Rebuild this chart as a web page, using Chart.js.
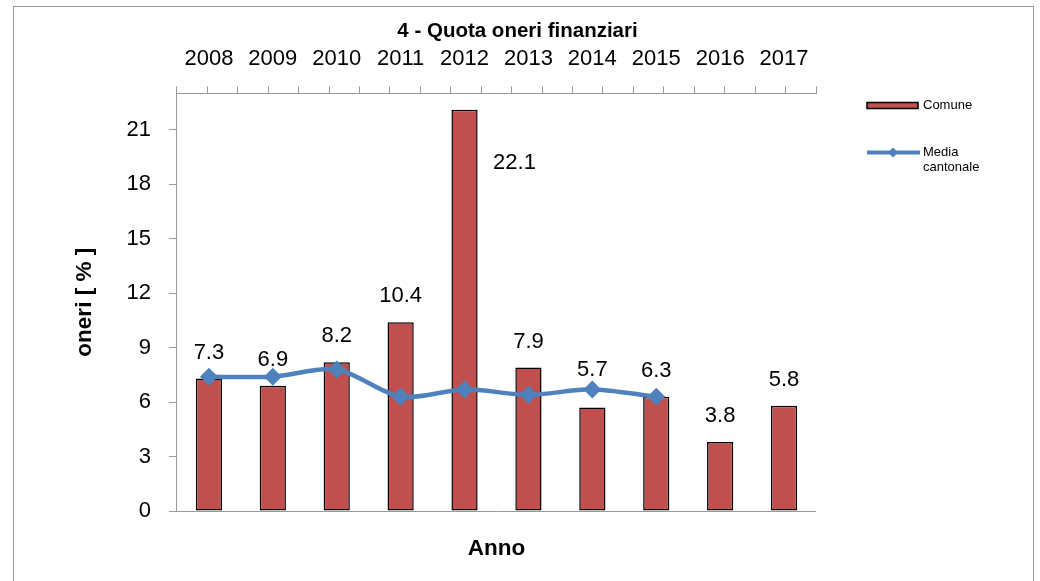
<!DOCTYPE html>
<html>
<head>
<meta charset="utf-8">
<script src="https://cdn.jsdelivr.net/npm/chart.js@4/dist/chart.umd.min.js"></script>
<style>
  html, body { margin: 0; background: #fff; }
  canvas { display: block; }
</style>
</head>
<body>
<canvas id="chartOneri" width="1040" height="581"></canvas>
<script>
const anni = ['2008', '2009', '2010', '2011', '2012', '2013', '2014', '2015', '2016', '2017'];
const comune = [7.3, 6.9, 8.2, 10.4, 22.1, 7.9, 5.7, 6.3, 3.8, 5.8];
const mediaCantonale = [7.4, 7.4, 7.8, 6.3, 6.7, 6.4, 6.7, 6.3, null, null];
const yTickValues = [0, 3, 6, 9, 12, 15, 18, 21];
const yMax = 23;

const FONT = '"Liberation Sans", Arial, sans-serif';
Chart.defaults.font.family = FONT;
Chart.defaults.color = '#000';

const grigio = '#999';

// cornice esterna
const cornice = {
    id: 'cornice',
    beforeDraw(chart) {
        const ctx = chart.ctx;
        ctx.save();
        ctx.strokeStyle = grigio;
        ctx.lineWidth = 1;
        ctx.strokeRect(13.5, 6.5, 1020, 620);
        ctx.restore();
    }
};

// valori sopra le barre
const etichette = {
    id: 'etichette',
    afterDatasetsDraw(chart, args, opts) {
        const ctx = chart.ctx;
        const meta = chart.getDatasetMeta(0);
        ctx.save();
        ctx.font = '22px ' + FONT;
        ctx.fillStyle = '#000';
        ctx.textAlign = 'center';
        ctx.textBaseline = 'middle';
        meta.data.forEach((bar, i) => {
            const s = opts.shift[i] || [0, 0];
            ctx.fillText(comune[i].toFixed(1), bar.x + s[0], bar.y - opts.offset + s[1]);
        });
        ctx.restore();
    }
};

// legenda a destra, stile Excel
const legenda = {
    id: 'legenda',
    afterDraw(chart) {
        const ctx = chart.ctx;
        const area = chart.chartArea;
        const barre = chart.data.datasets[0];
        const linea = chart.data.datasets[1];
        const lx = area.right + 51;
        const ly = area.top + 12;
        ctx.save();
        ctx.fillStyle = barre.backgroundColor;
        ctx.fillRect(lx, ly - 3, 51, 6);
        ctx.strokeStyle = '#000';
        ctx.lineWidth = 1.5;
        ctx.strokeRect(lx, ly - 3, 51, 6);

        ctx.font = '13px ' + FONT;
        ctx.fillStyle = '#000';
        ctx.textBaseline = 'middle';
        ctx.fillText(barre.label, lx + 56, ly);

        const y2 = ly + 47;
        ctx.strokeStyle = linea.borderColor;
        ctx.lineWidth = 4;
        ctx.beginPath();
        ctx.moveTo(lx, y2);
        ctx.lineTo(lx + 53, y2);
        ctx.stroke();
        ctx.fillStyle = linea.borderColor;
        ctx.beginPath();
        ctx.moveTo(lx + 26, y2 - 5);
        ctx.lineTo(lx + 31, y2);
        ctx.lineTo(lx + 26, y2 + 5);
        ctx.lineTo(lx + 21, y2);
        ctx.closePath();
        ctx.fill();

        ctx.fillStyle = '#000';
        ctx.fillText('Media', lx + 56, y2);
        ctx.fillText('cantonale', lx + 56, y2 + 15);
        ctx.restore();
    }
};

new Chart(document.getElementById('chartOneri'), {
    type: 'bar',
    data: {
        labels: anni,
        datasets: [{
            type: 'bar',
            label: 'Comune',
            data: comune,
            backgroundColor: '#C0504D',
            borderColor: '#000',
            borderWidth: 1.5,
            borderSkipped: false,
            barPercentage: 0.41,
            categoryPercentage: 1,
            order: 2
        }, {
            type: 'line',
            label: 'Media cantonale',
            data: mediaCantonale,
            borderColor: '#4F81BD',
            backgroundColor: '#4F81BD',
            borderWidth: 4.5,
            tension: 0.3,
            pointStyle: 'rectRot',
            pointRadius: 9,
            pointBorderWidth: 0,
            pointBackgroundColor: '#4F81BD',
            order: 1
        }]
    },
    options: {
        responsive: false,
        animation: false,
        devicePixelRatio: 1,
        layout: { padding: { left: 0, right: 5, top: 0, bottom: 0 } },
        scales: {
            x: {
                type: 'category',
                position: 'top',
                offset: true,
                weight: 1,
                grid: { display: false, tickLength: 14.5 },
                border: { display: false },
                ticks: { font: { size: 22 }, padding: 0, maxRotation: 0, autoSkip: false }
            },
            x2: {
                type: 'linear',
                position: 'top',
                min: -0.5,
                max: anni.length - 0.5,
                weight: 0,
                ticks: { display: false, stepSize: 0.5 },
                grid: { drawOnChartArea: false, tickLength: 7, color: grigio },
                border: { color: grigio }
            },
            y: {
                min: 0,
                max: yMax,
                ticks: { font: { size: 22 }, padding: 18, stepSize: 3 },
                afterBuildTicks: scale => { scale.ticks = yTickValues.map(v => ({ value: v })); },
                grid: {
                    color: c => (c.tick && c.tick.value === 0 ? grigio : 'transparent'),
                    tickColor: grigio,
                    tickLength: 8
                },
                border: { color: grigio },
                title: {
                    display: true,
                    text: 'oneri [ % ]',
                    font: { size: 22.5, weight: 'bold' },
                    padding: { top: 71.5, bottom: 10 }
                }
            },
            // spazio vuoto a destra per la legenda
            yLegenda: {
                type: 'linear',
                position: 'right',
                ticks: { display: false },
                grid: { display: false },
                border: { display: false },
                afterFit: scale => { scale.width = 219; }
            }
        },
        plugins: {
            legend: { display: false },
            tooltip: { enabled: false },
            title: {
                display: true,
                text: '4 - Quota oneri finanziari',
                font: { size: 20.5, weight: 'bold' },
                padding: { top: 19, bottom: 2 }
            },
            subtitle: {
                display: true,
                position: 'bottom',
                fullSize: false,
                text: 'Anno',
                font: { size: 22.5, weight: 'bold' },
                padding: { top: 24, bottom: 19 }
            },
            etichette: { offset: 26, shift: { 4: [50, 79], 6: [0, -12] } }
        }
    },
    plugins: [cornice, etichette, legenda]
});
</script>
</body>
</html>
